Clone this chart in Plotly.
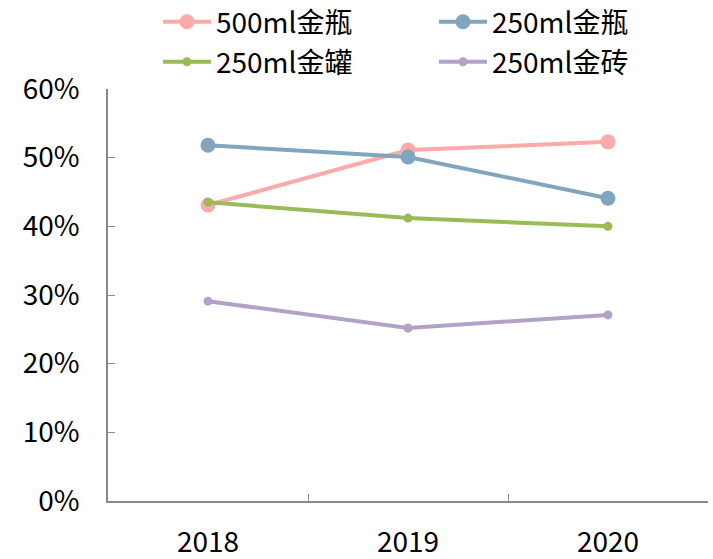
import plotly.graph_objects as go

years = ["2018", "2019", "2020"]
s_500_bottle = [0.431, 0.511, 0.523]
s_250_bottle = [0.518, 0.501, 0.441]
s_250_can = [0.435, 0.412, 0.400]
s_250_brick = [0.291, 0.252, 0.271]

series = [
    ("500ml金瓶", s_500_bottle, "#FFAAAA", 15, "legend"),
    ("250ml金瓶", s_250_bottle, "#80A6BF", 15, "legend"),
    ("250ml金罐", s_250_can, "#9BBB59", 9, "legend2"),
    ("250ml金砖", s_250_brick, "#B3A2C8", 9, "legend2"),
]

fig = go.Figure()
for name, vals, color, msize, lg in series:
    fig.add_trace(go.Scatter(
        x=years, y=vals, name=name, mode="lines+markers",
        line=dict(color=color, width=4),
        marker=dict(color=color, size=msize),
        legend=lg,
    ))

font_family = "Noto Sans CJK SC, Noto Sans, sans-serif"
fs = 28
leg_common = dict(
    orientation="h", xref="container", yref="container",
    xanchor="left", yanchor="middle",
    entrywidth=213, entrywidthmode="pixels",
    font=dict(size=fs), itemwidth=48,
    bgcolor="rgba(0,0,0,0)",
)
fig.update_layout(
    width=713, height=559,
    margin=dict(l=108, r=5, t=89, b=58, autoexpand=False),
    paper_bgcolor="white", plot_bgcolor="white",
    font=dict(family=font_family, size=fs, color="black"),
    showlegend=True,
    legend=dict(x=158 / 713, y=1 - 22 / 559, **leg_common),
    legend2=dict(x=158 / 713, y=1 - 62 / 559, **leg_common),
    xaxis=dict(
        type="category", range=[-0.5, 2.5],
        showline=True, linecolor="#898989", linewidth=1.5,
        ticks="inside", ticklen=7, tickcolor="#898989", tickwidth=1,
        tickson="boundaries", showgrid=False, zeroline=False,
        tickfont=dict(size=fs), automargin=False, ticklabelstandoff=16,
    ),
    yaxis=dict(
        range=[0, 0.6], dtick=0.1, tickformat=".0%",
        showline=True, linecolor="#898989", linewidth=1.5,
        ticks="inside", ticklen=7, tickcolor="#898989", tickwidth=1,
        showgrid=False, zeroline=False,
        tickfont=dict(size=fs), automargin=False, ticklabelstandoff=21,
    ),
)

fig.write_html("out.html")
